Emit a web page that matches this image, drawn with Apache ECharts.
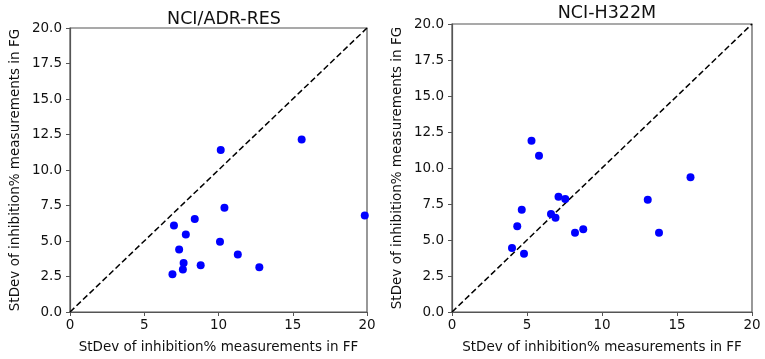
<!DOCTYPE html>
<html>
<head>
<meta charset="utf-8">
<script src="https://cdn.jsdelivr.net/npm/echarts@6/dist/echarts.min.js"></script>
<style>
  html, body { margin: 0; padding: 0; background: #fff; }
  #chart { width: 765px; height: 359px; }
</style>
</head>
<body>
<div id="chart"></div>
<script>
// 数据: StDev FF (x) vs StDev FG (y)
var titles = ['NCI/ADR-RES', 'NCI-H322M']
var adrFF = [10.15, 15.6, 7.0, 8.4, 10.4, 19.85, 7.8, 7.35, 10.1, 11.3, 7.65, 7.6, 8.8, 12.75, 6.9]
var adrFG = [11.4, 12.15, 6.1, 6.55, 7.35, 6.8, 5.45, 4.4, 4.95, 4.05, 3.45, 3.0, 3.3, 3.15, 2.65]
var h322FF = [5.3, 5.8, 15.9, 7.1, 7.55, 13.05, 4.65, 6.6, 6.9, 4.35, 8.2, 8.75, 13.8, 4.0, 4.8]
var h322FG = [11.9, 10.85, 9.35, 8.0, 7.85, 7.8, 7.1, 6.8, 6.55, 5.95, 5.5, 5.75, 5.5, 4.45, 4.05]
var xTicks = [0, 5, 10, 15, 20]
var yTicks = [0, 2.5, 5, 7.5, 10, 12.5, 15, 17.5, 20]
var diag = [[0, 0], [20, 20]]

var xName = 'StDev of inhibition% measurements in FF'
var yName = 'StDev of inhibition% measurements in FG'
var font = 'DejaVu Sans'

function pairs(xs, ys) {
	var out = []
	for (var i = 0; i < xs.length; i++) {
		out.push([xs[i], ys[i]])
	}
	return out
}

function xAxisOf(idx) {
	return {
		gridIndex: idx,
		type: 'value',
		min: xTicks[0],
		max: xTicks[xTicks.length - 1],
		interval: xTicks[1] - xTicks[0],
		name: xName,
		nameLocation: 'middle',
		nameGap: 28,
		nameTextStyle: { fontFamily: font, fontSize: 13.5, color: '#111' },
		axisLine: { show: true, onZero: false, lineStyle: { color: '#555', width: 1.2 } },
		axisTick: { show: true, inside: false, length: 4, lineStyle: { color: '#555' } },
		axisLabel: { margin: 6, fontFamily: font, fontSize: 13.5, color: '#111' },
		splitLine: { show: false }
	}
}

function yAxisOf(idx) {
	return {
		gridIndex: idx,
		type: 'value',
		min: yTicks[0],
		max: yTicks[yTicks.length - 1],
		interval: yTicks[1] - yTicks[0],
		name: yName,
		nameLocation: 'middle',
		nameGap: 48,
		nameTextStyle: { fontFamily: font, fontSize: 13.5, color: '#111' },
		axisLine: { show: true, onZero: false, lineStyle: { color: '#555', width: 1.2 } },
		axisTick: { show: true, inside: false, length: 4, lineStyle: { color: '#555' } },
		axisLabel: {
			margin: 8, fontFamily: font, fontSize: 13.5, color: '#111',
			formatter: function (v) { return v.toFixed(1) }
		},
		splitLine: { show: false }
	}
}

var myChart = echarts.init(document.getElementById('chart'), null, { renderer: 'canvas' })
var option = {
	animation: false,
	title: [
		{ text: titles[0], left: 219, top: 5, textAlign: 'center', textStyle: { fontFamily: font, fontSize: 17.5, fontWeight: 'normal', color: '#111' } },
		{ text: titles[1], left: 602, top: -1, textAlign: 'center', textStyle: { fontFamily: font, fontSize: 17.5, fontWeight: 'normal', color: '#111' } }
	],
	grid: [
		{ left: 70, top: 28, width: 297, height: 288, show: true, borderColor: '#555', borderWidth: 1.2, backgroundColor: 'transparent' },
		{ left: 452, top: 24, width: 300, height: 292, show: true, borderColor: '#555', borderWidth: 1.2, backgroundColor: 'transparent' }
	],
	xAxis: [xAxisOf(0), xAxisOf(1)],
	yAxis: [yAxisOf(0), yAxisOf(1)],
	series: [
		{
			type: 'line', xAxisIndex: 0, yAxisIndex: 0, data: diag, symbol: 'none', z: 1,
			lineStyle: { color: '#000', width: 1.5, type: [6, 3] }
		},
		{
			type: 'line', xAxisIndex: 1, yAxisIndex: 1, data: diag, symbol: 'none', z: 1,
			lineStyle: { color: '#000', width: 1.5, type: [6, 3] }
		},
		{
			type: 'scatter', xAxisIndex: 0, yAxisIndex: 0, data: pairs(adrFF, adrFG),
			symbolSize: 8, itemStyle: { color: '#0000ff', opacity: 1 }, z: 3
		},
		{
			type: 'scatter', xAxisIndex: 1, yAxisIndex: 1, data: pairs(h322FF, h322FG),
			symbolSize: 8, itemStyle: { color: '#0000ff', opacity: 1 }, z: 3
		}
	]
}
myChart.setOption(option)
</script>
</body>
</html>
